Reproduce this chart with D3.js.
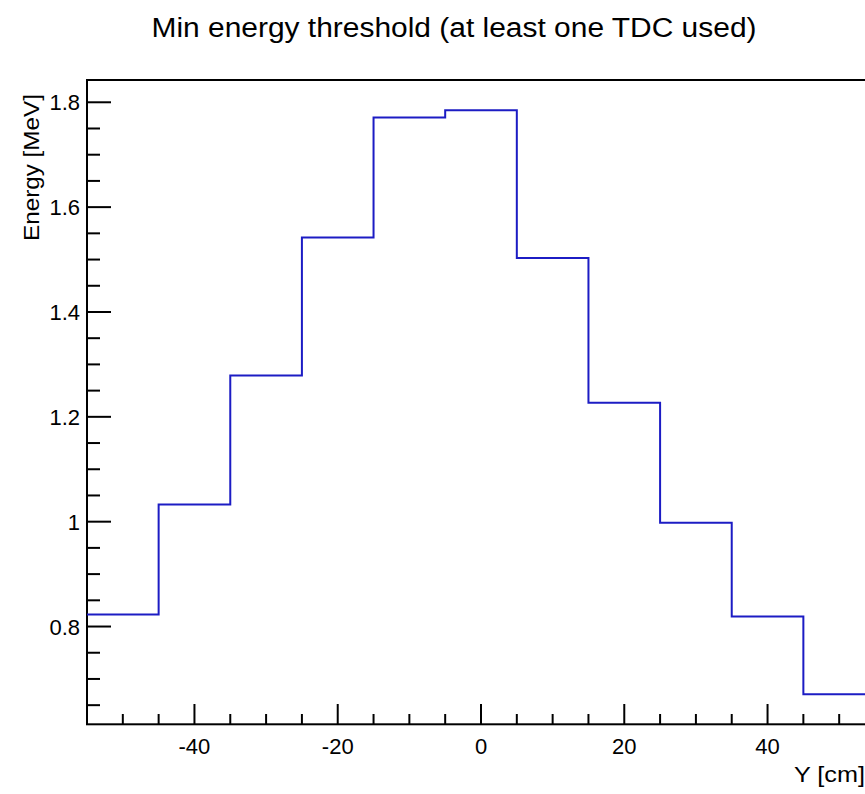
<html>
<head>
<script src="https://d3js.org/d3.v7.min.js"></script>
<style>
body { margin: 0; background: #fff; }
text { font-family: "Liberation Sans", Arial, sans-serif; fill: #000; }
</style>
</head>
<body>
<svg width="865" height="794"></svg>
<script>
// bin edges (cm) and contents (MeV)
var binEdges = [-55, -45, -35, -25, -15, -5, 5, 15, 25, 35, 45, 55];
var energy = [0.823, 1.033, 1.279, 1.542, 1.771, 1.785, 1.503, 1.227, 0.998, 0.819, 0.671];
var xTicks = [-40, -20, 0, 20, 40];
var yTicks = [0.8, 1, 1.2, 1.4, 1.6, 1.8];
var titleText = "Min energy threshold (at least one TDC used)";

var svg = d3.select("svg");
var x = d3.scaleLinear().domain([-55, 55]).range([87, 875]);
var y = d3.scaleLinear().domain([0.6135, 1.8425]).range([724.3, 80]);

// frame
svg.append("rect").attr("x", 87).attr("y", 80).attr("width", 788).attr("height", 644.3)
    .attr("fill", "none").attr("stroke", "#000").attr("stroke-width", 2);

// x ticks
var xMinor = d3.range(-50, 55, 5);
svg.selectAll("line.xt").data(xMinor).enter().append("line")
    .attr("x1", d => x(d)).attr("x2", d => x(d))
    .attr("y1", 724.3)
    .attr("y2", d => xTicks.indexOf(d) >= 0 ? 704 : 714)
    .attr("stroke", "#000").attr("stroke-width", 2);
svg.selectAll("text.xl").data(xTicks).enter().append("text")
    .attr("x", d => x(d)).attr("y", 754)
    .attr("text-anchor", "middle").style("font-size", "22px")
    .text(d => d);

// y ticks
var yMinor = d3.range(0.65, 1.84, 0.05);
svg.selectAll("line.yt").data(yMinor).enter().append("line")
    .attr("x1", 87)
    .attr("x2", d => yTicks.some(t => Math.abs(t - d) < 1e-6) ? 111 : 100)
    .attr("y1", d => y(d)).attr("y2", d => y(d))
    .attr("stroke", "#000").attr("stroke-width", 2);
svg.selectAll("text.yl").data(yTicks).enter().append("text")
    .attr("x", 80).attr("y", d => y(d) + 8)
    .attr("text-anchor", "end").style("font-size", "22px")
    .text(d => d);

// histogram outline
var pts = [];
energy.forEach(function(v, i) {
    pts.push([binEdges[i], v]);
    pts.push([binEdges[i + 1], v]);
});
var line = d3.line().x(d => x(d[0])).y(d => y(d[1]));
svg.append("path").attr("d", line(pts))
    .attr("fill", "none").attr("stroke", "#1c1cc4").attr("stroke-width", 2);

// titles
svg.append("text").attr("x", 454).attr("y", 37)
    .attr("text-anchor", "middle").style("font-size", "27px")
    .attr("textLength", 605).attr("lengthAdjust", "spacingAndGlyphs")
    .text(titleText);
svg.append("text").attr("x", 865).attr("y", 782)
    .attr("text-anchor", "end").style("font-size", "22px")
    .attr("textLength", 71).attr("lengthAdjust", "spacingAndGlyphs")
    .text("Y [cm]");
svg.append("text").attr("transform", "translate(38.5,94) rotate(-90)")
    .attr("text-anchor", "end").style("font-size", "22px")
    .attr("textLength", 147).attr("lengthAdjust", "spacingAndGlyphs")
    .text("Energy [MeV]");
</script>
</body>
</html>
